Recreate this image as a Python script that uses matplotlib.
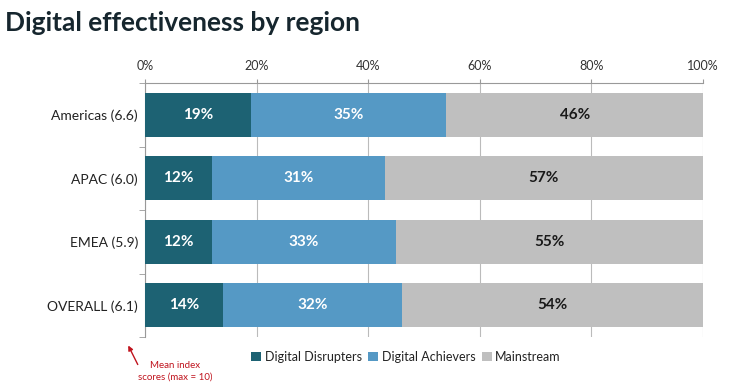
import matplotlib
matplotlib.use("Agg")
import matplotlib.pyplot as plt
import numpy as np

categories = ["Americas (6.6)", "APAC (6.0)", "EMEA (5.9)", "OVERALL (6.1)"]
series_names = ["Digital Disrupters", "Digital Achievers", "Mainstream"]
disrupters = [19, 12, 12, 14]
achievers = [35, 31, 33, 32]
mainstream = [46, 57, 55, 54]
x_ticks = [0, 20, 40, 60, 80, 100]
x_tick_labels = ["0%", "20%", "40%", "60%", "80%", "100%"]

colors = ["#1d6273", "#5599c5", "#bfbfbf"]
label_colors = ["white", "white", "#1a1a1a"]

plt.rcParams['font.family'] = ['Lato', 'DejaVu Sans']

fig = plt.figure(figsize=(7.4, 3.87), dpi=100)
ax = fig.add_axes([145/740, 1-337/387, (703-145)/740, (337-83)/387])

y = np.arange(len(categories))
left = np.zeros(len(categories))
for vals, col, lc, name in zip([disrupters, achievers, mainstream], colors, label_colors, series_names):
    vals = np.array(vals, dtype=float)
    ax.barh(y, vals, left=left, height=0.7, color=col, label=name, zorder=3)
    for yi, l, v in zip(y, left, vals):
        ax.text(l + v/2, yi, f"{int(round(v))}%", ha='center', va='center',
                color=lc, fontsize=11, fontweight='bold', zorder=4)
    left += vals

ax.set_xlim(0, 100)
ax.set_ylim(len(categories)-0.5, -0.5)
ax.set_xticks(x_ticks)
ax.set_xticklabels(x_tick_labels, fontsize=9, color="#333333")
ax.xaxis.tick_top()
ax.tick_params(axis='x', length=3, color="#999999", pad=5)
ax.grid(axis='x', color="#bbbbbb", linewidth=0.8, zorder=0)

ax.set_yticks(y)
ax.set_yticklabels(categories, fontsize=10, color="#222222")
ax.set_yticks(np.arange(len(categories)+1) - 0.5, minor=True)
ax.tick_params(axis='y', which='major', length=0, pad=5)
ax.tick_params(axis='y', which='minor', length=4, color="#999999")

for s in ['right', 'bottom']:
    ax.spines[s].set_visible(False)
for s in ['top', 'left']:
    ax.spines[s].set_color("#999999")
    ax.spines[s].set_linewidth(0.8)

fig.text(5/740, 1-23/387, "Digital effectiveness by region", fontsize=19,
         fontweight='bold', color="#16262e", ha='left', va='center')

leg = fig.legend(loc='center left', bbox_to_anchor=(246/740, 1-357/387), ncol=3,
                 frameon=False, fontsize=9, handlelength=0.8, handleheight=0.8,
                 handletextpad=0.3, columnspacing=0.5, borderaxespad=0)
for t in leg.get_texts():
    t.set_color("#222222")

fig.text(175/740, 1-371/387, "Mean index\nscores (max = 10)", fontsize=7,
         color="#c0141e", ha='center', va='center', linespacing=1.4)
fig.patches.append(matplotlib.patches.FancyArrowPatch(
    (139/740, 1-367/387), (127/740, 1-343/387), transform=fig.transFigure,
    arrowstyle='-|>', mutation_scale=7, color="#c0141e", linewidth=1))

fig.savefig("out.png", dpi=100)
